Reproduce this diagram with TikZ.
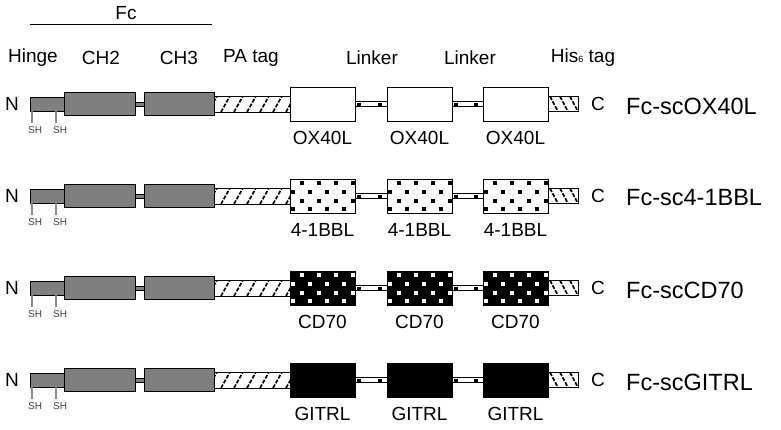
\documentclass[tikz,border=0pt]{standalone}
\usepackage{fontspec}
\setmainfont{Liberation Sans}
\usetikzlibrary{calc}
\begin{document}
\begin{tikzpicture}[x=1pt,y=-1pt,
  lab/.style={font=\fontsize{19}{19}\selectfont, inner sep=0pt},
  namelab/.style={font=\fontsize{23.5}{23.5}\selectfont, inner sep=0pt, anchor=west},
  shlab/.style={font=\fontsize{10}{10}\selectfont, inner sep=0pt, anchor=west, text=black!75},
  shline/.style={draw=black!45, line width=1.2pt},
  fcbox/.style={draw=black, line width=0.9pt, fill=fcgray, inner sep=0pt, outer sep=0pt},
  plainbox/.style={draw=black, line width=0.9pt, inner sep=0pt, outer sep=0pt},
  hatchline/.style={line width=1.7pt, dash pattern=on 4pt off 1.5pt},
]
\definecolor{fcgray}{HTML}{7F7F7F}
\useasboundingbox (0,0) rectangle (781,429);

% Fc header
\node[lab] (fc) at (126,13) {Fc};
\coordinate (fcl) at (30,24);
\coordinate (fcr) at (212,24);
\draw[line width=1pt] (fcl) -- (fcr);

% column labels
\node[lab] (thinge) at (33,58) {Hinge};
\node[lab] (tch2) at (101,58) {CH2};
\node[lab] (tch3) at (179,58) {CH3};
\node[lab] (tpa) at (251,58) {PA tag};
\node[lab] (tlk1) at (372,58) {Linker};
\node[lab] (tlk2) at (470,58) {Linker};
\node[lab] (this) at (583,58) {His{\fontsize{9}{9}\selectfont 6} tag};

\foreach \r/\yc/\lbl/\nm/\fillc in {1/104/OX40L/Fc-scOX40L/white,
                                     2/196/4-1BBL/Fc-sc4-1BBL/white,
                                     3/288/CD70/Fc-scCD70/black,
                                     4/380/GITRL/Fc-scGITRL/black}{
  % Fc part
  \node[fcbox, minimum width=34pt, minimum height=14pt] (hinge\r) at (47,\yc) {};
  \node[fcbox, minimum width=9pt, minimum height=4pt] (cc\r) at (139.5,\yc) {};
  \node[fcbox, minimum width=71pt, minimum height=23pt] (chtwo\r) at (99.5,\yc) {};
  \node[fcbox, minimum width=70pt, minimum height=23pt] (chthree\r) at (179,\yc) {};
  % PA tag
  \node[plainbox, fill=white, minimum width=76pt, minimum height=16pt] (pa\r) at (252,\yc) {};
  \begin{scope}
    \clip (pa\r.south west) rectangle (pa\r.north east);
    \foreach \k in {0,...,6}{
      \draw[hatchline] ($(pa\r.south west)+(\k*13-6,0)$) -- ++(9,-16);
    }
  \end{scope}
  \node[plainbox, minimum width=76pt, minimum height=16pt] (pab\r) at (252,\yc) {};
  % linkers
  \node[plainbox, fill=white, minimum width=32pt, minimum height=5pt] (lka\r) at (371,\yc) {};
  \node[plainbox, fill=white, minimum width=31pt, minimum height=5pt] (lkb\r) at (467.5,\yc) {};
  \foreach \lk in {lka\r,lkb\r}{
    \fill ($(\lk.west)+(2,-1.5)$) rectangle ++(4,3);
    \fill ($(\lk.east)+(-9,-1.5)$) rectangle ++(4,3);
  }
  % domains
  \foreach \dn/\cx in {a/322.5,b/419.5,c/515.5}{
    \node[plainbox, fill=\fillc, minimum width=65pt, minimum height=34pt] (d\dn\r) at (\cx,\yc) {};
    \ifnum\r>1 \ifnum\r<4
      \pgfmathsetmacro{\dotc}{\r==2 ? "black" : "white"}
      \begin{scope}
        \clip (d\dn\r.south west) rectangle (d\dn\r.north east);
        \foreach \dy/\dxs in {4/12, 13/3, 22/12, 30/3}{
          \foreach \dx in {0,17,34,51}{
            \fill[\dotc] ($(d\dn\r.north west)+(\dxs+\dx-1.75,\dy-1.75)$) rectangle ++(3.5,3.5);
          }
        }
      \end{scope}
      \node[plainbox, minimum width=65pt, minimum height=34pt] (dd\dn\r) at (\cx,\yc) {};
    \fi\fi
    \node[lab] (l\dn\r) at (\cx,\yc+34) {\lbl};
  }
  % His tag
  \node[plainbox, fill=white, minimum width=30pt, minimum height=15pt] (his\r) at (563,\yc) {};
  \begin{scope}
    \clip (his\r.south west) rectangle (his\r.north east);
    \foreach \k in {0,...,4}{
      \draw[hatchline] ($(his\r.north west)+(\k*10-8,0)$) -- ++(8,15);
    }
  \end{scope}
  \node[plainbox, minimum width=30pt, minimum height=15pt] (hisb\r) at (563,\yc) {};
  % ends
  \node[lab] (n\r) at (12,\yc) {N};
  \node[lab] (c\r) at (598,\yc) {C};
  \node[namelab] (nm\r) at (626,\yc+2) {\nm};
  % SH
  \node[shlab] (sha\r) at (28,\yc+26) {SH};
  \node[shlab] (shb\r) at (53,\yc+26) {SH};
  \coordinate (sa\r) at ($(hinge\r.south west)+(2,0)$);
  \coordinate (sb\r) at ($(hinge\r.south west)+(26,0)$);
  \draw[shline] (sa\r) -- ($(sa\r)+(0,12)$);
  \draw[shline] (sb\r) -- ($(sb\r)+(0,12)$);
}
\end{tikzpicture}
\end{document}
